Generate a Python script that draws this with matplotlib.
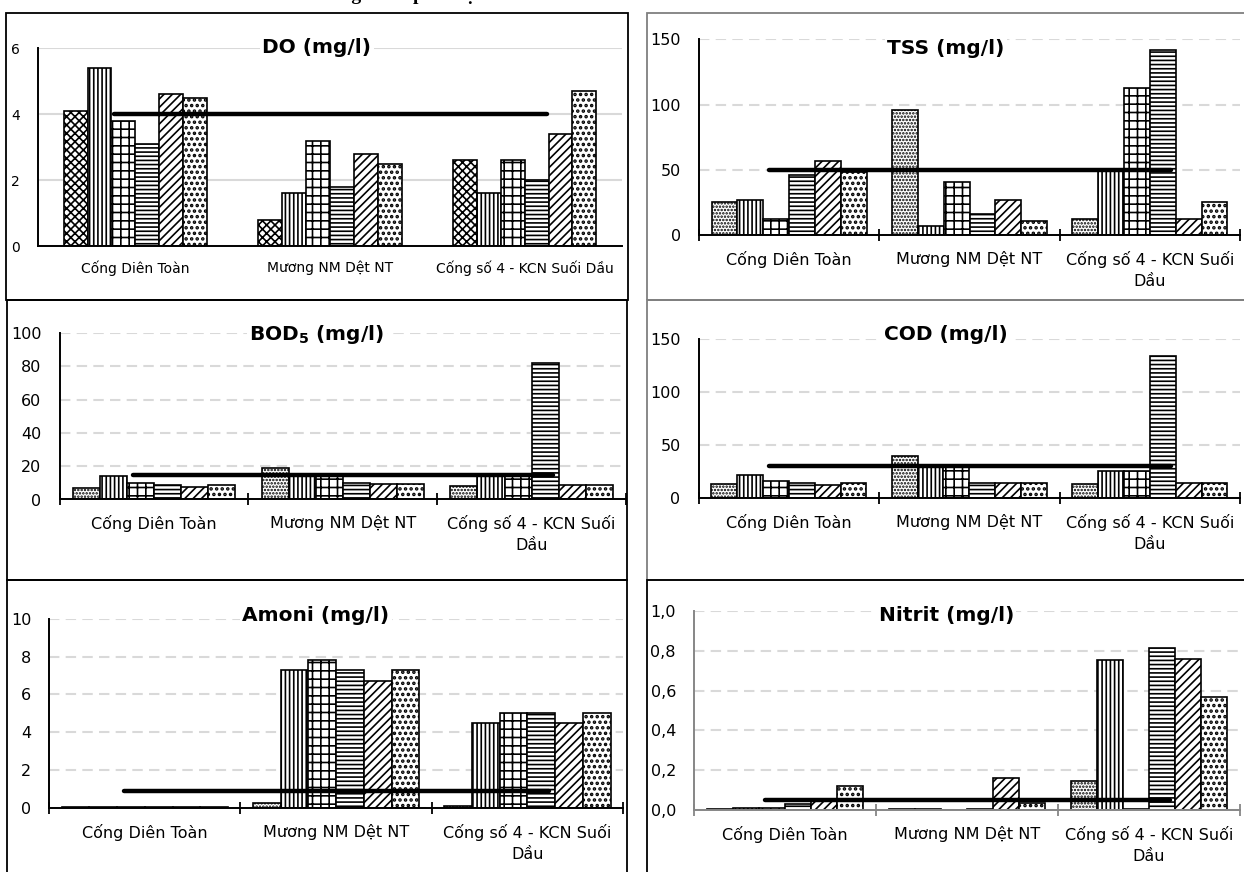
import matplotlib
matplotlib.use("Agg")
import matplotlib.pyplot as plt
from matplotlib.patches import Rectangle

plt.rcParams['font.family'] = ['DejaVu Sans']
plt.rcParams['hatch.linewidth'] = 1.2

# ---------------- data ----------------
locations = ["Cống Diên Toàn", "Mương NM Dệt NT", "Cống số 4 - KCN Suối Dầu"]

# each row = one location, 6 sampling rounds (series)
do_values = [[4.1, 5.4, 3.8, 3.1, 4.6, 4.5],
             [0.8, 1.6, 3.2, 1.8, 2.8, 2.5],
             [2.6, 1.6, 2.6, 2.0, 3.4, 4.7]]
tss_values = [[25, 27, 12, 46, 57, 48],
              [96, 7, 41, 16, 27, 11],
              [12, 50, 113, 142, 12, 25]]
bod_values = [[7, 14, 10, 9, 7.5, 8.5],
              [19, 14.5, 14.5, 10, 9.5, 9.5],
              [8, 14.5, 14.5, 82, 9, 8.5]]
cod_values = [[13.5, 21.5, 16, 14, 12.5, 14.5],
              [39.5, 31, 31, 14.5, 14.5, 14.5],
              [13, 25, 25, 134, 14.5, 14.5]]
amoni_values = [[0.03, 0.03, 0.03, 0.03, 0.03, 0.03],
                [0.23, 7.3, 7.85, 7.3, 6.7, 7.3],
                [0.1, 4.5, 5.0, 5.0, 4.5, 5.0]]
nitrit_values = [[0.005, 0.01, 0.01, 0.03, 0.045, 0.12],
                 [0.005, 0.005, 0.002, 0.006, 0.16, 0.035],
                 [0.148, 0.755, 0.005, 0.812, 0.76, 0.566]]

titles = ["DO (mg/l)", "TSS (mg/l)", r"BOD$_\mathbf{5}$ (mg/l)", "COD (mg/l)",
          "Amoni (mg/l)", "Nitrit (mg/l)"]
standards = [4, 50, 15, 30, 0.9, 0.05]
yticks_list = [[0, 2, 4, 6], [0, 50, 100, 150], [0, 20, 40, 60, 80, 100],
               [0, 50, 100, 150], [0, 2, 4, 6, 8, 10], [0, 0.2, 0.4, 0.6, 0.8, 1.0]]

top_heading = "Chỉ tiêu ô nhiễm trong nước phía hạ lưu"

# ---------------- layout / style ----------------
W, H = 1244, 872
fig = plt.figure(figsize=(W / 100, H / 100), dpi=100)

# (left, right, top, bottom) of plot areas in pixels
plot_px = [(38, 622, 48.3, 246),
           (699, 1240, 39.3, 235),
           (59.5, 626, 333, 499.5),
           (698.6, 1240, 339, 498),
           (49.2, 623, 619, 807.7),
           (694, 1240, 611, 810)]
title_px = [(317, 47.5), (946, 48), (317, 335), (946, 335), (316, 615), (946.5, 615)]
boxes_px = [(6, 627.7, 12.7, 300, 'black'),
            (646.7, 1260, 12.7, 300, '#7f7f7f'),
            (7, 626.7, 300, 580, 'black'),
            (646.7, 1260, 300, 580, '#7f7f7f'),
            (7, 626.7, 580, 880, 'black'),
            (646.7, 1260, 580, 880, 'black')]
group_width = [0.737, 0.86, 0.86, 0.86, 0.87, 0.86]
std_x = (-0.11, 2.115)

all_values = [do_values, tss_values, bod_values, cod_values, amoni_values, nitrit_values]

for (l, r, t, b, c) in boxes_px:
    fig.add_artist(Rectangle((l / W, 1 - b / H), (r - l) / W, (b - t) / H,
                             transform=fig.transFigure, fill=False,
                             edgecolor=c, linewidth=1.3, zorder=0))

# heading above the figure, clipped: only descenders remain visible
fig.text(173 / W, 1.0, top_heading, ha='left', va='baseline',
         family='Liberation Serif', weight='bold', fontsize=14)

for k in range(6):
    l, r, t, b = plot_px[k]
    ax = fig.add_axes([l / W, 1 - b / H, (r - l) / W, (b - t) / H])
    vals = all_values[k]
    is_do = (k == 0)
    is_nitrit = (k == 5)
    axis_color = '#868686' if is_nitrit else 'black'
    gw = group_width[k]
    bw = gw / 6
    hatches = ['xxxx' if is_do else '.....', '||||', '++', '----', '////', '...']
    for j in range(6):
        xs = [i - gw / 2 + (j + 0.5) * bw for i in range(3)]
        ys = [vals[i][j] for i in range(3)]
        bars = ax.bar(xs, ys, width=bw, color='white', edgecolor='black',
                      linewidth=1.2, hatch=hatches[j], zorder=2)
        if j == 5:
            for p in bars:
                if hasattr(p, 'set_hatch_linewidth'):
                    p.set_hatch_linewidth(1.7)
    ax.plot(std_x, [standards[k]] * 2, color='black', linewidth=3.2,
            solid_capstyle='round', zorder=4)

    yt = yticks_list[k]
    ax.set_xlim(-0.5, 2.5)
    ax.set_ylim(0, yt[-1])
    ax.set_yticks(yt)
    if is_nitrit:
        ax.set_yticklabels([f"{v:.1f}".replace('.', ',') for v in yt])
    else:
        ax.set_yticklabels([str(v) for v in yt])
    fs = 10 if is_do else 11.5
    ax.tick_params(axis='y', length=0, pad=13, labelsize=fs, colors='black')

    # category boundary ticks + category labels
    ax.set_xticks([-0.5, 0.5, 1.5, 2.5])
    ax.set_xticklabels([])
    if is_do:
        labels = locations
        ax.tick_params(axis='x', which='major', length=0)
    else:
        labels = locations[:2] + ["\n".join(locations[2].rsplit(' ', 1))]
        ax.tick_params(axis='x', which='major', length=9, direction='inout',
                       width=1.3, color=axis_color)
    ax.set_xticks([0, 1, 2], minor=True)
    ax.set_xticklabels(labels, minor=True, fontsize=fs, linespacing=1.5)
    ax.tick_params(axis='x', which='minor', length=0, pad=10.5 if is_do else 11.5)

    for s in ['top', 'right']:
        ax.spines[s].set_visible(False)
    for s in ['left', 'bottom']:
        ax.spines[s].set_color(axis_color)
        ax.spines[s].set_linewidth(1.4)
        ax.spines[s].set_zorder(5)

    if is_do:
        ax.yaxis.grid(True, color='#d9d9d9', linewidth=1.5, linestyle='-')
    else:
        ax.yaxis.grid(True, color='#d9d9d9', linewidth=1.5, linestyle=(0, (5, 3)))
    ax.set_axisbelow(True)
    ax.patch.set_alpha(0)

    tx, ty = title_px[k]
    fig.text(tx / W, 1 - ty / H, titles[k], ha='center', va='center',
             fontsize=14.5, weight='bold',
             bbox=dict(facecolor='white', edgecolor='none', pad=1.5), zorder=10)

fig.savefig("out.png", dpi=100)
